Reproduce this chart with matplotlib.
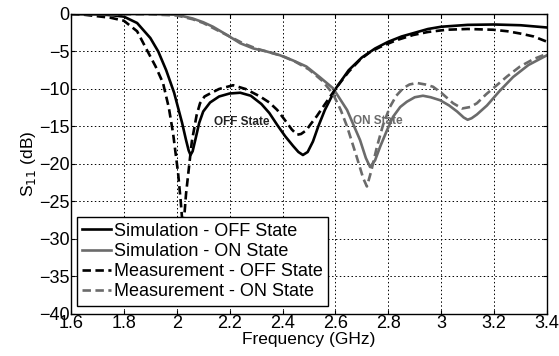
import matplotlib
matplotlib.use("Agg")
import matplotlib.pyplot as plt

plt.rcParams["font.family"] = ["Liberation Sans", "DejaVu Sans"]

# simulation - OFF state
sim_off_f = [1.6, 1.7, 1.75, 1.8, 1.85, 1.9, 1.93, 1.96, 1.99, 2.02, 2.035, 2.045, 2.052, 2.06, 2.07,
             2.085, 2.1, 2.126, 2.16, 2.2, 2.24, 2.28, 2.32, 2.35, 2.38, 2.41, 2.44, 2.46, 2.477,
             2.495, 2.515, 2.535, 2.56, 2.6, 2.65, 2.7, 2.75, 2.8, 2.85, 2.9, 2.95, 3.0, 3.1, 3.2,
             3.3, 3.4]
sim_off_db = [0, -0.05, -0.15, -0.35, -1.2, -3.2, -5.0, -7.5, -10.5, -14.5, -16.8, -18.2, -18.8, -18.3, -16.8,
              -14.5, -13.0, -11.8, -11.0, -10.6, -10.5, -10.9, -12.0, -13.2, -14.8, -16.3, -17.6, -18.4, -18.8,
              -18.4, -17.0, -15.0, -12.8, -10.0, -7.5, -5.8, -4.6, -3.7, -3.0, -2.5, -2.0, -1.7, -1.45, -1.4,
              -1.5, -1.8]

# simulation - ON state
sim_on_f = [1.6, 1.9, 2.0, 2.06, 2.1, 2.137, 2.19, 2.24, 2.29, 2.34, 2.39, 2.44, 2.49, 2.54,
            2.591, 2.644, 2.693, 2.715, 2.731, 2.75, 2.769, 2.795, 2.818, 2.845, 2.87, 2.9,
            2.931, 2.96, 2.996, 3.03, 3.06, 3.085, 3.1, 3.115, 3.135, 3.173, 3.22, 3.272, 3.33, 3.4]
sim_on_db = [0, 0, -0.1, -0.6, -1.1, -1.7, -2.8, -3.9, -4.6, -5.0, -5.5, -6.2, -7.0, -8.4,
             -9.9, -12.8, -16.8, -19.2, -20.4, -19.5, -17.7, -15.5, -13.7, -12.4, -11.7, -11.1,
             -10.9, -11.1, -11.5, -12.2, -13.0, -13.8, -14.1, -13.9, -13.4, -12.2, -10.3, -8.4, -6.8, -5.5]

# measurement - OFF state
meas_off_f = [1.6, 1.65, 1.7, 1.75, 1.8, 1.85, 1.887, 1.92, 1.948, 1.97, 1.986, 2.005, 2.015,
              2.024, 2.035, 2.045, 2.057, 2.075, 2.088, 2.105, 2.126, 2.16, 2.213, 2.26, 2.315, 2.35,
              2.38, 2.41, 2.435, 2.455, 2.47, 2.49, 2.504, 2.53, 2.553, 2.606, 2.65, 2.693, 2.73,
              2.769, 2.83, 2.894, 2.95, 3.02, 3.1, 3.196, 3.25, 3.298, 3.35, 3.4]
meas_off_db = [0, -0.1, -0.3, -0.5, -0.9, -2.3, -4.8, -7.0, -9.2, -12.5, -15.9, -21.2, -25.0,
               -29.0, -24.0, -20.8, -17.0, -13.5, -11.9, -11.0, -10.6, -10.0, -9.5, -10.0, -11.0, -11.8,
               -12.8, -14.2, -15.4, -16.1, -16.0, -15.5, -14.8, -13.6, -12.4, -9.7, -7.7, -6.1, -5.1,
               -4.4, -3.5, -2.8, -2.4, -2.1, -2.0, -2.1, -2.3, -2.6, -3.0, -3.7]

# measurement - ON state
meas_on_f = [1.6, 1.9, 2.0, 2.06, 2.1, 2.15, 2.2, 2.25, 2.3, 2.35, 2.4, 2.45, 2.5, 2.55, 2.59,
             2.62, 2.644, 2.68, 2.705, 2.719, 2.735, 2.757, 2.78, 2.806, 2.83, 2.856, 2.88, 2.908,
             2.94, 2.969, 3.0, 3.045, 3.079, 3.11, 3.135, 3.17, 3.21, 3.25, 3.298, 3.35, 3.4]
meas_on_db = [0, -0.05, -0.2, -0.7, -1.2, -2.1, -3.0, -3.9, -4.6, -5.1, -5.6, -6.4, -7.4, -8.9, -10.6,
              -12.8, -15.0, -19.0, -21.9, -23.0, -21.0, -17.7, -14.8, -12.4, -10.9, -9.9, -9.4, -9.2,
              -9.4, -9.7, -10.5, -11.9, -12.6, -12.4, -11.9, -10.7, -9.5, -8.3, -7.0, -6.0, -5.3]

x_ticks = [1.6, 1.8, 2.0, 2.2, 2.4, 2.6, 2.8, 3.0, 3.2, 3.4]
x_labels = ["1.6", "1.8", "2", "2.2", "2.4", "2.6", "2.8", "3", "3.2", "3.4"]
y_ticks = [-40, -35, -30, -25, -20, -15, -10, -5, 0]

gray = "#6b6b6b"

fig = plt.figure(figsize=(5.59, 3.56), dpi=100)
ax = fig.add_axes([0.127, 0.118, 0.8515, 0.8427])

ax.plot(sim_off_f, sim_off_db, color="black", lw=1.9, label="Simulation - OFF State")
ax.plot(sim_on_f, sim_on_db, color=gray, lw=1.9, label="Simulation - ON State")
ax.plot(meas_off_f, meas_off_db, color="black", lw=1.9, ls=(0, (3.2, 1.7)), label="Measurement - OFF State")
ax.plot(meas_on_f, meas_on_db, color=gray, lw=1.9, ls=(0, (3.2, 1.7)), label="Measurement - ON State")

ax.text(2.247, -14.4, "OFF State", fontsize=8.5, fontweight="bold", ha="center", va="center", color="#222222")
ax.text(2.76, -14.3, "ON State", fontsize=8.5, fontweight="bold", ha="center", va="center", color=gray)

ax.set_xlim(1.6, 3.4)
ax.set_ylim(-40, 0)
ax.set_xticks(x_ticks)
ax.set_xticklabels(x_labels)
ax.set_yticks(y_ticks)
ax.tick_params(direction="in", labelsize=13, length=3, top=True, right=True, pad=1)
ax.grid(True, color="black", ls=(0, (1.5, 2.5)), lw=0.7)
for s in ax.spines.values():
    s.set_linewidth(1.0)

ax.set_xlabel("Frequency (GHz)", fontsize=12.5, labelpad=0)
ax.set_ylabel("S$_{11}$ (dB)", fontsize=12.5, labelpad=1)

leg = ax.legend(loc="lower left", bbox_to_anchor=(0.0126, 0.027), borderaxespad=0,
                fontsize=13, handlelength=1.6, handletextpad=0.15, labelspacing=0.18,
                borderpad=0.3, fancybox=False, framealpha=1, edgecolor="black")
leg.get_frame().set_linewidth(1.0)

fig.savefig("out.png", dpi=100)
